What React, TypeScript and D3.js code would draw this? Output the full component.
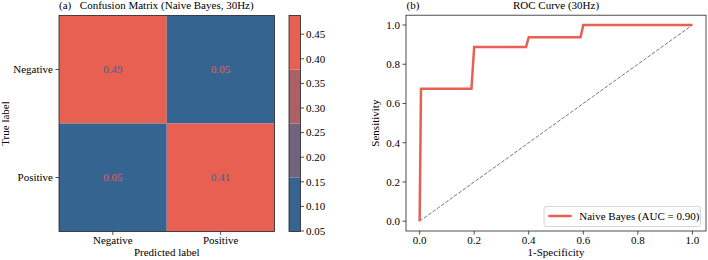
import React from "react";
import * as d3 from "d3";

// ---- Data ----
const cmLabels = ["Negative", "Positive"];
const cmValues = [
  [0.488, 0.053],
  [0.049, 0.41],
];
const cbTicks = [0.05, 0.1, 0.15, 0.2, 0.25, 0.3, 0.35, 0.4, 0.45];

const rocFpr = [0, 0.005, 0.19, 0.2, 0.39, 0.4, 0.59, 0.6, 1.0];
const rocTpr = [0, 0.675, 0.675, 0.888, 0.888, 0.938, 0.938, 1.0, 1.0];
const rocTicks = [0, 0.2, 0.4, 0.6, 0.8, 1.0];
const legendLabel = "Naive Bayes (AUC = 0.90)";

const BLUE = "#366491";
const RED = "#E86052";
const FONT = "'Liberation Serif', 'Times New Roman', serif";
const AX = "#222";

export default function App() {
  // Confusion matrix layout
  const hm = { x0: 59, x1: 274.5, y0: 15.5, y1: 231.5 };
  const xb = d3.scaleBand<string>().domain(cmLabels).range([hm.x0, hm.x1]);
  const yb = d3.scaleBand<string>().domain(cmLabels).range([hm.y0, hm.y1]);
  const flat = cmValues.flat();
  const [vmin, vmax] = d3.extent(flat) as [number, number];
  const nBands = 4;
  const bandColors = d3.range(nBands).map((i) => d3.interpolateRgb(BLUE, RED)(i / (nBands - 1)));
  const bandEdges = d3.range(1, nBands).map((i) => vmin + ((vmax - vmin) * i) / nBands);
  const colorOf = d3.scaleThreshold<number, string>().domain(bandEdges).range(bandColors);

  const cb = { x0: 289, x1: 300.5 };
  const cbY = d3.scaleLinear().domain([vmin, vmax]).range([hm.y1, hm.y0]);
  const bandBounds = [vmin, ...bandEdges, vmax];

  // ROC layout
  const ax = { x0: 406, x1: 706, y0: 15.2, y1: 231 };
  const xs = d3.scaleLinear().domain([-0.05, 1.05]).range([ax.x0, ax.x1]);
  const ys = d3.scaleLinear().domain([-0.05, 1.05]).range([ax.y1, ax.y0]);
  const rocPts: [number, number][] = rocFpr.map((f, i) => [f, rocTpr[i]]);
  const line = d3
    .line<[number, number]>()
    .x((d) => xs(d[0]))
    .y((d) => ys(d[1]));

  const fs = 11;

  return (
    <svg
      width={708}
      height={260}
      style={{ position: "absolute", left: 0, top: 0, background: "#fff" }}
      fontFamily={FONT}
      fontSize={fs}
    >
      <rect x={0} y={0} width={708} height={260} fill="#fff" />
      {/* ===== Panel (a) ===== */}
      <text x={hm.x0} y={8.8}>(a)</text>
      <text x={(hm.x0 + hm.x1) / 2} y={8.8} textAnchor="middle">
        Confusion Matrix (Naive Bayes, 30Hz)
      </text>
      {cmLabels.map((r, i) =>
        cmLabels.map((c, j) => {
          const v = cmValues[i][j];
          const fill = colorOf(v);
          const txt = v > (vmin + vmax) / 2 ? BLUE : RED;
          return (
            <g key={r + c}>
              <rect x={xb(c)!} y={yb(r)!} width={xb.bandwidth()} height={yb.bandwidth()} fill={fill} />
              <text
                x={xb(c)! + xb.bandwidth() / 2}
                y={yb(r)! + yb.bandwidth() / 2 + 3.8}
                textAnchor="middle"
                fill={txt}
              >
                {v.toFixed(2)}
              </text>
            </g>
          );
        })
      )}
      <rect
        x={hm.x0}
        y={hm.y0}
        width={hm.x1 - hm.x0}
        height={hm.y1 - hm.y0}
        fill="none"
        stroke={AX}
        strokeWidth={0.8}
      />
      {cmLabels.map((l) => {
        const cx = xb(l)! + xb.bandwidth() / 2;
        const cy = yb(l)! + yb.bandwidth() / 2;
        return (
          <g key={"t" + l}>
            <line x1={cx} x2={cx} y1={hm.y1} y2={hm.y1 + 3.5} stroke={AX} strokeWidth={0.8} />
            <text x={cx} y={244} textAnchor="middle">{l}</text>
            <line x1={hm.x0 - 3.5} x2={hm.x0} y1={cy} y2={cy} stroke={AX} strokeWidth={0.8} />
            <text x={hm.x0 - 6} y={cy + 3.8} textAnchor="end">{l}</text>
          </g>
        );
      })}
      <text x={(hm.x0 + hm.x1) / 2} y={256} textAnchor="middle">Predicted label</text>
      <text transform={`translate(8.5,${(hm.y0 + hm.y1) / 2}) rotate(-90)`} textAnchor="middle">
        True label
      </text>

      {/* Colorbar */}
      {bandColors.map((c, i) => (
        <rect
          key={"cb" + i}
          x={cb.x0}
          y={cbY(bandBounds[i + 1])}
          width={cb.x1 - cb.x0}
          height={cbY(bandBounds[i]) - cbY(bandBounds[i + 1])}
          fill={c}
        />
      ))}
      <rect
        x={cb.x0}
        y={hm.y0}
        width={cb.x1 - cb.x0}
        height={hm.y1 - hm.y0}
        fill="none"
        stroke={AX}
        strokeWidth={0.8}
      />
      {cbTicks.map((t) => (
        <g key={"cbt" + t}>
          <line x1={cb.x1} x2={cb.x1 + 3.5} y1={cbY(t)} y2={cbY(t)} stroke={AX} strokeWidth={0.8} />
          <text x={cb.x1 + 5.5} y={cbY(t) + 3.8}>{t.toFixed(2)}</text>
        </g>
      ))}

      {/* ===== Panel (b) ===== */}
      <text x={ax.x0 + 0.5} y={8.8}>(b)</text>
      <text x={(ax.x0 + ax.x1) / 2} y={8.8} textAnchor="middle">ROC Curve (30Hz)</text>
      <line
        x1={xs(0)}
        y1={ys(0)}
        x2={xs(1)}
        y2={ys(1)}
        stroke="#777"
        strokeWidth={1}
        strokeDasharray="3.7,1.6"
      />
      <path d={line(rocPts)!} fill="none" stroke={RED} strokeWidth={2.5} />
      <rect
        x={ax.x0}
        y={ax.y0}
        width={ax.x1 - ax.x0}
        height={ax.y1 - ax.y0}
        fill="none"
        stroke={AX}
        strokeWidth={0.8}
      />
      {rocTicks.map((t) => (
        <g key={"rx" + t}>
          <line x1={xs(t)} x2={xs(t)} y1={ax.y1} y2={ax.y1 + 3.5} stroke={AX} strokeWidth={0.8} />
          <text x={xs(t)} y={244} textAnchor="middle">{t.toFixed(1)}</text>
          <line x1={ax.x0 - 3.5} x2={ax.x0} y1={ys(t)} y2={ys(t)} stroke={AX} strokeWidth={0.8} />
          <text x={ax.x0 - 6} y={ys(t) + 3.8} textAnchor="end">{t.toFixed(1)}</text>
        </g>
      ))}
      <text x={(ax.x0 + ax.x1) / 2} y={256} textAnchor="middle">1-Specificity</text>
      <text transform={`translate(378.5,${(ax.y0 + ax.y1) / 2}) rotate(-90)`} textAnchor="middle">
        Sensitivity
      </text>

      {/* Legend */}
      <rect x={544} y={206.5} width={156.5} height={20} rx={2} fill="#fff" fillOpacity={0.8} stroke="#ccc" strokeWidth={0.8} />
      <line x1={548.3} x2={571.7} y1={216} y2={216} stroke={RED} strokeWidth={2.5} />
      <text x={579.3} y={219.8}>{legendLabel}</text>
    </svg>
  );
}
